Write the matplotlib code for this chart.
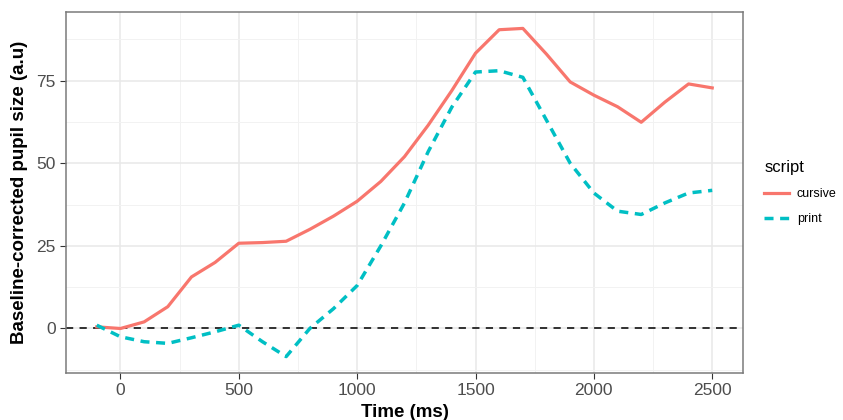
import matplotlib.pyplot as plt
import numpy as np
from matplotlib.ticker import MultipleLocator

plt.rcParams['font.family'] = ['Liberation Sans', 'DejaVu Sans']

# data: time bins (ms) and baseline-corrected pupil size per script
time_ms = [-100, 0, 100, 200, 300, 400, 500, 600, 700, 800, 900, 1000, 1100, 1200,
           1300, 1400, 1500, 1600, 1700, 1800, 1900, 2000, 2100, 2200, 2300, 2400, 2500]
cursive = [0.5, 0, 2, 6.6, 15.6, 20, 25.8, 26, 26.4, 30, 34, 38.5, 44.5, 52,
           61.5, 72, 83.3, 90.4, 90.8, 83, 74.6, 70.6, 67.1, 62.4, 68.5, 74, 72.8]
printed = [1, -2.5, -4, -4.5, -2.8, -1, 1, -4, -8.5, 0, 6, 13, 25, 38,
           53.5, 67, 77.6, 78, 76, 63, 50, 41, 35.5, 34.5, 38, 41, 41.8]
series_names = ['cursive', 'print']

fig = plt.figure(figsize=(8.43, 4.2), dpi=100)
ax = fig.add_axes([66 / 843, 1 - 373 / 420, (743 - 66) / 843, (373 - 12) / 420])

ax.xaxis.set_major_locator(MultipleLocator(500))
ax.xaxis.set_minor_locator(MultipleLocator(250))
ax.yaxis.set_major_locator(MultipleLocator(25))
ax.yaxis.set_minor_locator(MultipleLocator(12.5))
ax.grid(which='major', color='#E8E8E8', lw=1.1)
ax.grid(which='minor', color='#F2F2F2', lw=0.7)
ax.set_axisbelow(True)

ax.axhline(0, color='#222222', ls=(0, (4, 3.5)), lw=1.3, zorder=2)
ax.plot(time_ms, cursive, color='#F8766D', lw=2.3, label=series_names[0], zorder=3)
ax.plot(time_ms, printed, color='#00BFC4', lw=2.5, ls=(0, (2.6, 1.9)),
        label=series_names[1], zorder=3)

span = max(time_ms) - min(time_ms)
ax.set_xlim(min(time_ms) - 0.05 * span, max(time_ms) + 0.05 * span)
lo = min(min(cursive), min(printed))
hi = max(max(cursive), max(printed))
ax.set_ylim(lo - 0.05 * (hi - lo), hi + 0.05 * (hi - lo))

for s in ax.spines.values():
    s.set_color('#7A7A7A')
    s.set_linewidth(1.1)
ax.tick_params(which='major', length=4, color='#333333', labelsize=12.5,
               labelcolor='#4D4D4D', width=0.8)
ax.tick_params(which='minor', length=0)

ax.set_xlabel('Time (ms)', fontsize=13.5, fontweight='bold', labelpad=4)
ax.set_ylabel('Baseline-corrected pupil size (a.u)', fontsize=13.5,
              fontweight='bold', labelpad=6)

leg = ax.legend(loc='center left', bbox_to_anchor=(1.015, 0.5), frameon=False,
                title='script', fontsize=9, title_fontsize=12,
                handlelength=2.0, handletextpad=0.6, labelspacing=1.05)
leg._legend_box.align = 'left'

fig.savefig('out.png', dpi=100)
